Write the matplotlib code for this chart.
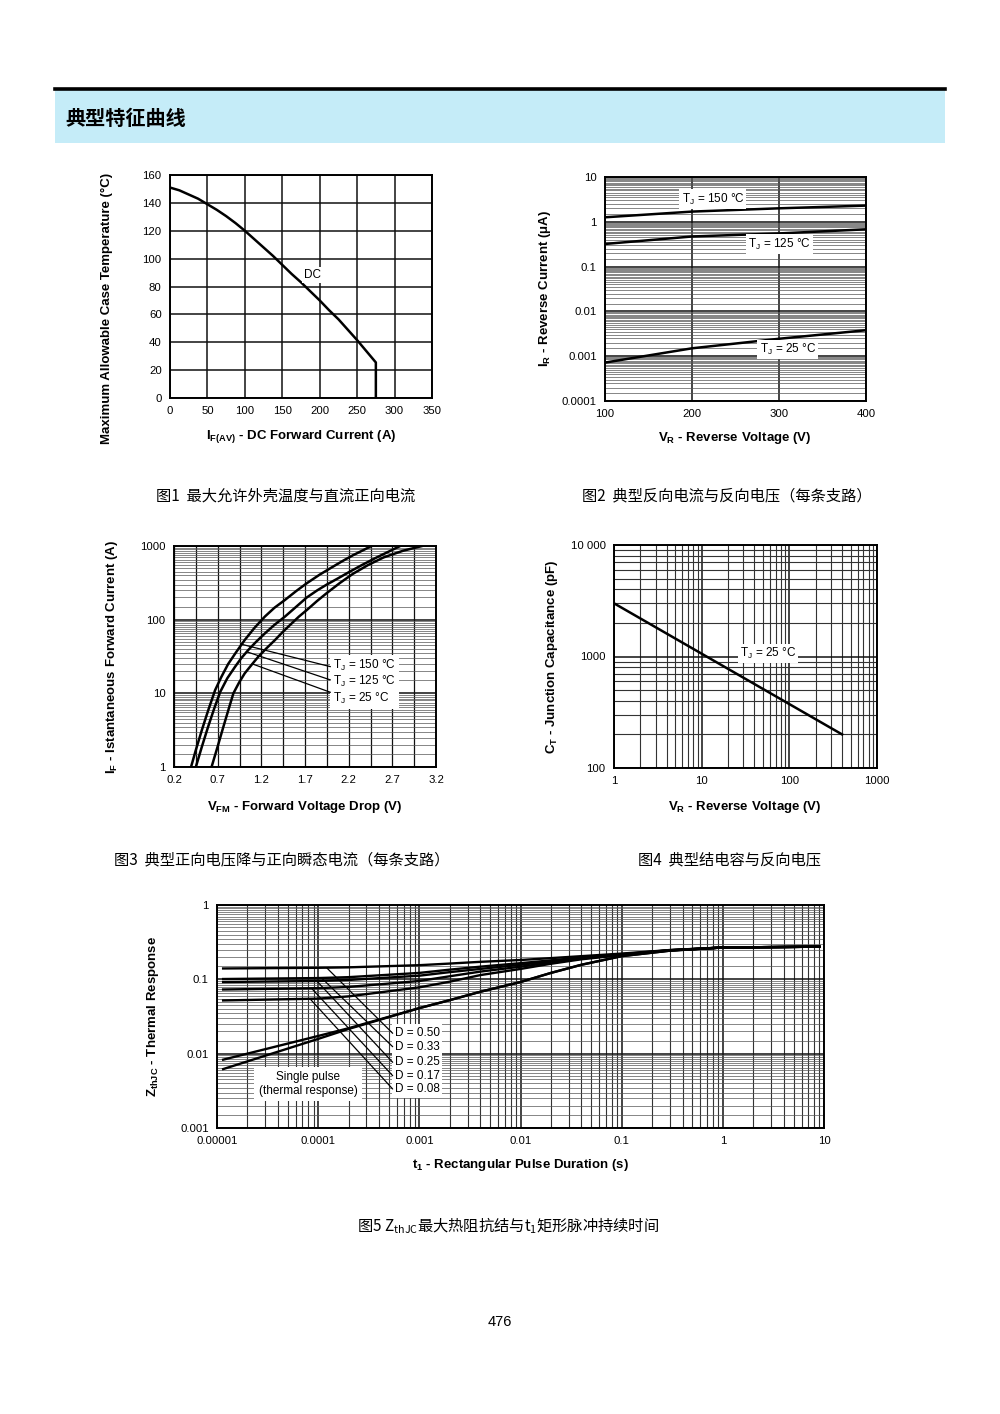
import matplotlib
matplotlib.use("Agg")
import matplotlib.pyplot as plt
from matplotlib.patches import Rectangle
import numpy as np

plt.rcParams['font.family'] = ['Liberation Sans', 'DejaVu Sans']
plt.rcParams['mathtext.default'] = 'regular'
CJK = ['Noto Sans CJK SC', 'DejaVu Sans']
W, H = 1000, 1414

################################################################
# Fig 1 - case temperature vs DC forward current
i_dc = [0, 12.5, 25, 37.5, 50, 62.5, 75, 87.5, 100, 112.5, 125, 137.5, 150,
        162.5, 175, 187.5, 200, 212.5, 225, 237.5, 250, 262.5, 275, 275]
tc_dc = [151, 149, 146, 143, 139, 135, 130.5, 125.5, 120, 114, 108, 102, 95.5,
         89, 83, 76.5, 70, 63, 56.5, 49, 41.5, 33.5, 25.5, 0]

# Fig 2 - reverse current vs reverse voltage
vr2 = [100, 200, 300, 400]
ir_150 = [1.26, 1.69, 2.0, 2.3]
ir_125 = [0.32, 0.47, 0.55, 0.68]
ir_25 = [0.00072, 0.0015, 0.00245, 0.0038]

# Fig 3 - forward current vs forward voltage
vf_150 = [0.395, 0.45, 0.52, 0.59, 0.67, 0.74, 0.82, 0.91, 1.01, 1.12, 1.24, 1.35,
          1.47, 1.6, 1.72, 1.87, 2.02, 2.14, 2.25, 2.36, 2.46]
if_150 = [1, 1.7, 3.2, 5.8, 11, 16.5, 25, 36, 53, 77, 110, 145,
          185, 245, 312, 410, 524, 635, 750, 870, 1000]
vf_125 = [0.45, 0.52, 0.59, 0.66, 0.73, 0.81, 0.9, 0.97, 1.05, 1.14, 1.24, 1.35,
          1.47, 1.6, 1.72, 1.84, 1.95, 2.08, 2.2, 2.35, 2.5, 2.65, 2.79]
if_125 = [1, 1.9, 3.5, 6.2, 10.5, 16, 23, 30, 38.7, 50, 65, 85,
          110, 150, 200, 250, 300, 365, 440, 550, 680, 830, 1000]
vf_25 = [0.63, 0.7, 0.765, 0.82, 0.88, 0.945, 1.01, 1.09, 1.165, 1.26, 1.357, 1.45,
         1.548, 1.63, 1.72, 1.84, 1.95, 2.1, 2.25, 2.42, 2.6, 2.82, 3.04]
if_25 = [1, 1.9, 3.5, 5.8, 10, 14, 18.7, 24.5, 31.4, 41, 53, 69,
         89, 110, 135, 180, 230, 315, 420, 550, 700, 860, 1000]
f3_labels = ['T$_J$ = 150 °C', 'T$_J$ = 125 °C', 'T$_J$ = 25 °C']

# Fig 4 - junction capacitance vs reverse voltage
vr4 = [1, 400]
ct4 = [3000, 200]

# Fig 5 - transient thermal impedance
t5 = [1.15e-5, 1e-4, 2e-4, 1e-3, 2e-3, 4e-3, 1e-2, 2e-2, 4e-2, 0.1, 0.3, 1, 9]
z_d50 = [0.140, 0.143, 0.145, 0.155, 0.163, 0.172, 0.182, 0.193, 0.205, 0.222, 0.248, 0.268, 0.275]
z_d33 = [0.101, 0.104, 0.107, 0.122, 0.135, 0.148, 0.165, 0.180, 0.197, 0.218, 0.247, 0.268, 0.275]
z_d25 = [0.092, 0.095, 0.098, 0.112, 0.125, 0.138, 0.157, 0.175, 0.193, 0.216, 0.246, 0.268, 0.275]
z_d17 = [0.073, 0.076, 0.079, 0.095, 0.110, 0.127, 0.148, 0.168, 0.190, 0.214, 0.246, 0.268, 0.275]
z_d08 = [0.052, 0.055, 0.059, 0.078, 0.093, 0.114, 0.138, 0.162, 0.186, 0.212, 0.245, 0.268, 0.275]
z_sp1 = [0.0083, 0.0173, 0.022, 0.041, 0.0525, 0.068, 0.092, 0.122, 0.157, 0.205, 0.243, 0.268, 0.275]
z_sp2 = [0.0062, 0.0158, 0.0215, 0.041, 0.0525, 0.068, 0.092, 0.122, 0.157, 0.205, 0.243, 0.268, 0.275]
d_labels = ['D = 0.50', 'D = 0.33', 'D = 0.25', 'D = 0.17', 'D = 0.08']
d_leader_t = [1.21e-4, 1.08e-4, 9.7e-5, 8.6e-5, 8.3e-5]

captions = ['图1  最大允许外壳温度与直流正向电流',
            '图2  典型反向电流与反向电压（每条支路）',
            '图3  典型正向电压降与正向瞬态电流（每条支路）',
            '图4  典型结电容与反向电压',
            '图5 Z$_{thJC}$最大热阻抗结与t$_1$矩形脉冲持续时间']
################################################################

HALF_SUBS = np.arange(1.5, 10, 0.5)
STD_SUBS = np.arange(2, 10)


def rect(x0, y0, x1, y1):
    return [x0 / W, 1 - y1 / H, (x1 - x0) / W, (y1 - y0) / H]


def ftext(x, y, s, **kw):
    fig.text(x / W, 1 - y / H, s, **kw)


def log_minor(lo, hi, subs):
    return [s * 10.0 ** e for e in range(lo, hi) for s in subs]


def style(ax):
    ax.set_axisbelow(True)
    ax.tick_params(which='both', length=0, labelsize=8.2, pad=6)
    for sp in ax.spines.values():
        sp.set_linewidth(1.4)
        sp.set_color('black')


def grid(ax, axis, which, minor_lw=0.5, minor_col='#555555'):
    if which in ('major', 'both'):
        ax.grid(True, axis=axis, which='major', color='#111111', lw=1.1)
    if which in ('minor', 'both'):
        ax.grid(True, axis=axis, which='minor', color=minor_col, lw=minor_lw)


def on_curve(x, xs, ys):
    return 10 ** np.interp(x, xs, np.log10(ys))


fig = plt.figure(figsize=(10, 14.14), dpi=100)

# header
fig.add_artist(Rectangle((55 / W, 1 - 143 / H), 890 / W, 53 / H,
                         transform=fig.transFigure, fc='#c5ecf8', ec='none'))
fig.add_artist(plt.Line2D([55 / W, 945 / W], [1 - 88.5 / H] * 2,
                          transform=fig.transFigure, color='black', lw=2.6))
ftext(65, 118, '典型特征曲线', family=CJK, fontsize=14.5, fontweight='bold',
      va='center', ha='left')

lab = dict(fontsize=9.5, fontweight='bold')
small = 8.5

# ---------------- Fig 1
ax1 = fig.add_axes(rect(170, 175, 432, 398))
ax1.plot(i_dc, tc_dc, color='black', lw=1.8)
ax1.set_xlim(0, 350)
ax1.set_ylim(0, 160)
ax1.set_xticks(range(0, 351, 50))
ax1.set_yticks(range(0, 161, 20))
grid(ax1, 'both', 'major')
style(ax1)
ax1.text(190, 88, 'DC', ha='center', va='center', fontsize=small,
         bbox=dict(fc='white', ec='none', pad=1.5))
ftext(301, 437, 'I$_{F(AV)}$ - DC Forward Current (A)', ha='center', va='center', **lab)
ftext(107, 308, 'Maximum Allowable Case Temperature (°C)', rotation=90,
      ha='center', va='center', **lab)

# ---------------- Fig 2
ax2 = fig.add_axes(rect(605, 177, 866, 401))
ax2.set_yscale('log')
for ys in (ir_150, ir_125, ir_25):
    ax2.plot(vr2, ys, color='black', lw=1.8)
ax2.set_xlim(100, 400)
ax2.set_ylim(1e-4, 10)
ax2.set_xticks(vr2)
ax2.set_yticks([1e-4, 1e-3, 1e-2, 0.1, 1, 10],
               labels=['0.0001', '0.001', '0.01', '0.1', '1', '10'])
ax2.set_yticks(log_minor(-4, 1, HALF_SUBS), minor=True)
ax2.yaxis.set_minor_formatter(plt.NullFormatter())
grid(ax2, 'x', 'major')
grid(ax2, 'y', 'both')
style(ax2)
bb = dict(fc='white', ec='none', pad=1.5)
ax2.text(224, 3.2, 'T$_J$ = 150 °C', ha='center', va='center', fontsize=small, bbox=bb)
ax2.text(301, 0.32, 'T$_J$ = 125 °C', ha='center', va='center', fontsize=small, bbox=bb)
ax2.text(310, 0.0014, 'T$_J$ = 25 °C', ha='center', va='center', fontsize=small, bbox=bb)
ftext(735, 438, 'V$_R$ - Reverse Voltage (V)', ha='center', va='center', **lab)
ftext(545, 288, 'I$_R$ - Reverse Current (μA)', rotation=90, ha='center', va='center', **lab)

# ---------------- Fig 3
ax3 = fig.add_axes(rect(174, 546, 436, 767))
ax3.set_yscale('log')
f3_curves = [(vf_150, if_150), (vf_125, if_125), (vf_25, if_25)]
for xs, ys in f3_curves:
    ax3.plot(xs, ys, color='black', lw=1.8)
ax3.set_xlim(0.2, 3.2)
ax3.set_ylim(1, 1000)
x3_ticks = [0.2, 0.7, 1.2, 1.7, 2.2, 2.7, 3.2]
ax3.set_xticks(x3_ticks, labels=[f'{v:.1f}' for v in x3_ticks])
ax3.set_xticks(np.arange(0.2, 3.21, 0.25), minor=True)
ax3.set_yticks([1, 10, 100, 1000], labels=['1', '10', '100', '1000'])
ax3.set_yticks(log_minor(0, 3, HALF_SUBS), minor=True)
ax3.yaxis.set_minor_formatter(plt.NullFormatter())
ax3.xaxis.set_minor_formatter(plt.NullFormatter())
ax3.grid(True, axis='x', which='both', color='#111111', lw=0.9)
grid(ax3, 'y', 'both')
style(ax3)
ax3.text(0.607, 0.385, '\n'.join(f3_labels), transform=ax3.transAxes,
         ha='left', va='center', fontsize=small, linespacing=1.1,
         bbox=dict(fc='white', ec='none', pad=2.5))
lead_x3 = [0.975, 1.033, 1.097]
lead_end3 = [0.454, 0.394, 0.338]
for (xs, ys), lx, ey in zip(f3_curves, lead_x3, lead_end3):
    ax3.annotate('', xy=(lx, on_curve(lx, xs, ys)), xycoords='data',
                 xytext=(0.597, ey), textcoords='axes fraction',
                 arrowprops=dict(arrowstyle='-', lw=0.9, color='black',
                                 shrinkA=0, shrinkB=0))
ftext(305, 807, 'V$_{FM}$ - Forward Voltage Drop (V)', ha='center', va='center', **lab)
ftext(112, 657, 'I$_F$ - Istantaneous Forward Current (A)', rotation=90,
      ha='center', va='center', **lab)

# ---------------- Fig 4
ax4 = fig.add_axes(rect(614, 545, 877, 768))
ax4.set_xscale('log')
ax4.set_yscale('log')
ax4.plot(vr4, ct4, color='black', lw=1.8)
ax4.set_xlim(1, 1000)
ax4.set_ylim(100, 10000)
ax4.set_xticks([1, 10, 100, 1000], labels=['1', '10', '100', '1000'])
ax4.set_yticks([100, 1000, 10000], labels=['100', '1000', '10 000'])
ax4.set_xticks(log_minor(0, 3, STD_SUBS), minor=True)
ax4.set_yticks(log_minor(2, 4, STD_SUBS), minor=True)
ax4.xaxis.set_minor_formatter(plt.NullFormatter())
ax4.yaxis.set_minor_formatter(plt.NullFormatter())
grid(ax4, 'both', 'both', minor_lw=0.8, minor_col='#333333')
style(ax4)
ax4.text(57, 1070, 'T$_J$ = 25 °C', ha='center', va='center', fontsize=small, bbox=bb)
ftext(745, 807, 'V$_R$ - Reverse Voltage (V)', ha='center', va='center', **lab)
ftext(552, 657, 'C$_T$ - Junction Capacitance (pF)', rotation=90,
      ha='center', va='center', **lab)

# ---------------- Fig 5
ax5 = fig.add_axes(rect(217, 905, 824, 1128))
ax5.set_xscale('log')
ax5.set_yscale('log')
d_curves = [z_d50, z_d33, z_d25, z_d17, z_d08]
for zs in d_curves + [z_sp1, z_sp2]:
    ax5.plot(t5, zs, color='black', lw=1.7)
ax5.set_xlim(1e-5, 10)
ax5.set_ylim(1e-3, 1)
x5 = [1e-5, 1e-4, 1e-3, 1e-2, 0.1, 1, 10]
ax5.set_xticks(x5, labels=['0.00001', '0.0001', '0.001', '0.01', '0.1', '1', '10'])
ax5.set_yticks([1e-3, 1e-2, 0.1, 1], labels=['0.001', '0.01', '0.1', '1'])
ax5.set_xticks(log_minor(-5, 1, STD_SUBS), minor=True)
ax5.set_yticks(log_minor(-3, 0, HALF_SUBS), minor=True)
ax5.xaxis.set_minor_formatter(plt.NullFormatter())
ax5.yaxis.set_minor_formatter(plt.NullFormatter())
grid(ax5, 'x', 'both', minor_lw=0.8, minor_col='#333333')
grid(ax5, 'y', 'both')
style(ax5)
d_text_y = [0.4247, 0.3646, 0.2947, 0.2345, 0.1749]
for zs, lt, ty, s in zip(d_curves, d_leader_t, d_text_y, d_labels):
    ax5.text(0.2925, ty, s, transform=ax5.transAxes, ha='left', va='center',
             fontsize=small, bbox=dict(fc='white', ec='none', pad=2.0))
for zs, lt, ty in zip(d_curves, d_leader_t, d_text_y):
    ax5.annotate('', xy=(lt, on_curve(np.log10(lt), np.log10(t5), zs)),
                 xycoords='data', xytext=(0.2894, ty), textcoords='axes fraction',
                 arrowprops=dict(arrowstyle='-', lw=0.9, color='black',
                                 shrinkA=0, shrinkB=0))
ax5.text(0.15, 0.197, 'Single pulse\n(thermal response)', transform=ax5.transAxes,
         ha='center', va='center', fontsize=small, linespacing=1.15,
         bbox=dict(fc='white', ec='none', pad=3))
ftext(520, 1165, 't$_1$ - Rectangular Pulse Duration (s)', ha='center', va='center', **lab)
ftext(153, 1016, 'Z$_{thJC}$ - Thermal Response', rotation=90,
      ha='center', va='center', **lab)

# captions
cap_pos = [(286, 496), (727, 496), (282, 860), (730, 860), (508, 1226)]
for (cx, cy), s in zip(cap_pos, captions):
    ftext(cx, cy, s, family=CJK, fontsize=11, ha='center', va='center')

ftext(500, 1322, '476', fontsize=10.5, ha='center', va='center')

fig.savefig('out.png', dpi=100)
